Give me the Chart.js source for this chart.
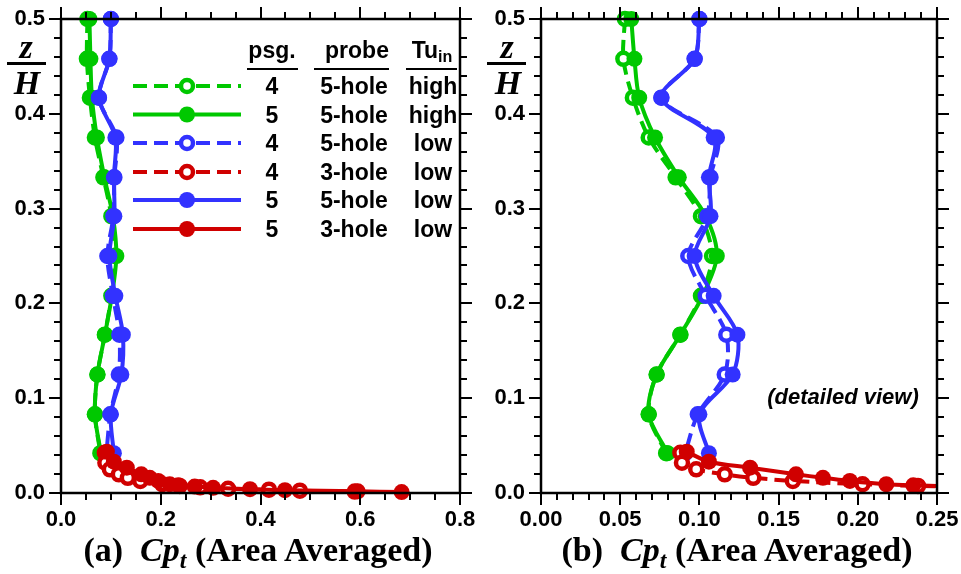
<!DOCTYPE html>
<html>
<head>
<meta charset="utf-8">
<script src="https://cdn.jsdelivr.net/npm/chart.js@4.4.1/dist/chart.umd.min.js"></script>
<style>
html, body { margin: 0; padding: 0; background: #fff; }
#wrap { position: relative; width: 961px; height: 574px; overflow: hidden; }
.panel { position: absolute; top: 0; height: 574px; }
.t { position: absolute; transform: translate(-50%, -50%); white-space: nowrap; line-height: 1; color: #000; }
.sans { font-family: "Liberation Sans", Arial, sans-serif; font-weight: bold; }
.serif { font-family: "Liberation Serif", "Times New Roman", serif; font-weight: bold; }
.xt { font-size: 34px; }
.xt sub { font-size: 0.7em; vertical-align: -0.3em; line-height: 0; }
.frac { font-size: 34px; font-style: italic; }
.bar { position: absolute; height: 2.5px; background: #000; }
.lg { font-size: 23px; }
.ul { position: absolute; height: 1.5px; background: #000; }
.lg sub { font-size: 0.7em; vertical-align: -0.25em; line-height: 0; }
</style>
</head>
<body>
<div id="wrap">
  <div class="panel" style="left:0;width:480px"><canvas id="chartA" width="480" height="574"></canvas></div>
  <div class="panel" style="left:480px;width:481px"><canvas id="chartB" width="481" height="574"></canvas></div>

  <!-- y axis labels z/H -->
  <div class="t serif frac" style="left:26px;top:47px">z</div>
  <div class="bar" style="left:7px;top:62px;width:39px"></div>
  <div class="t serif frac" style="left:27px;top:83px">H</div>
  <div class="t serif frac" style="left:507px;top:47px">z</div>
  <div class="bar" style="left:487px;top:62px;width:39px"></div>
  <div class="t serif frac" style="left:508px;top:83px">H</div>

  <!-- x axis titles -->
  <div class="t serif xt" style="left:258px;top:550px">(a)&nbsp;&nbsp;<i>Cp<sub>t</sub></i> (Area Averaged)</div>
  <div class="t serif xt" style="left:737px;top:550px">(b)&nbsp;&nbsp;<i>Cp<sub>t</sub></i> (Area Averaged)</div>

  <!-- legend table -->
  <div class="t sans lg" style="left:272px;top:50px">psg.</div>
  <div class="t sans lg" style="left:357px;top:50px">probe</div>
  <div class="t sans lg" style="left:432px;top:50px">Tu<sub>in</sub></div>
  <div class="ul" style="left:247px;top:68px;width:51px"></div>
  <div class="ul" style="left:314px;top:68px;width:75px"></div>
  <div class="ul" style="left:406px;top:68px;width:51px"></div>
  <div id="legendRows"></div>

  <div class="t sans" style="left:843px;top:397px;font-size:22px;font-style:italic">(detailed view)</div>
</div>

<script>
// z/H levels shared by the 5-hole traverses
const zLevels = [0.5, 0.458, 0.417, 0.375, 0.333, 0.292, 0.25, 0.208, 0.167, 0.125, 0.083, 0.042];

// psg. 4 / 5-hole / high Tu
const cpP4FiveHoleHigh = [0.053, 0.052, 0.058, 0.068, 0.085, 0.101, 0.108, 0.101, 0.088, 0.073, 0.068, 0.079];
// psg. 5 / 5-hole / high Tu
const cpP5FiveHoleHigh = [0.057, 0.059, 0.062, 0.072, 0.087, 0.104, 0.111, 0.102, 0.088, 0.073, 0.068, 0.080];
// psg. 4 / 5-hole / low Tu
const cpP4FiveHoleLow = [0.100, 0.097, 0.076, 0.111, 0.107, 0.105, 0.093, 0.104, 0.117, 0.116, 0.099, 0.091];
// psg. 5 / 5-hole / low Tu
const cpP5FiveHoleLow = [0.100, 0.097, 0.076, 0.109, 0.106, 0.107, 0.097, 0.109, 0.124, 0.121, 0.100, 0.106];

// psg. 4 / 3-hole / low Tu (near-wall)
const zP4ThreeHole = [0.0425, 0.032, 0.025, 0.0197, 0.016, 0.0127, 0.0092, 0.0075, 0.006, 0.0045, 0.0035, 0.0025, 0.0015];
const cpP4ThreeHole = [0.088, 0.089, 0.098, 0.116, 0.134, 0.159, 0.203, 0.238, 0.279, 0.335, 0.417, 0.479, 0.589];
// psg. 5 / 3-hole / low Tu (near-wall)
const zP5ThreeHole = [0.0435, 0.033, 0.0267, 0.0197, 0.016, 0.0127, 0.0092, 0.0081, 0.0068, 0.0055, 0.004, 0.003, 0.0018, 0.001];
const cpP5ThreeHole = [0.092, 0.106, 0.132, 0.161, 0.178, 0.195, 0.218, 0.235, 0.268, 0.305, 0.379, 0.449, 0.595, 0.683];

// legend rows: psg., probe, Tu_in
const legendPsg = ['4', '5', '4', '4', '5', '5'];
const legendProbe = ['5-hole', '5-hole', '5-hole', '3-hole', '5-hole', '3-hole'];
const legendTu = ['high', 'high', 'low', 'low', 'low', 'low'];

const GREEN = '#00c800';
const BLUE = '#3232ff';
const RED = '#d00000';

const legendStyles = [
  {color: GREEN, dashed: true, open: true},
  {color: GREEN, dashed: false, open: false},
  {color: BLUE, dashed: true, open: true},
  {color: RED, dashed: true, open: true},
  {color: BLUE, dashed: false, open: false},
  {color: RED, dashed: false, open: false}
];
const legendY = [86, 114.5, 143, 172, 200, 229];

// legend text
var rowsHtml = '';
for (var i = 0; i < legendPsg.length; i++) {
  rowsHtml += '<div class="t sans lg" style="left:272px;top:' + legendY[i] + 'px">' + legendPsg[i] + '</div>';
  rowsHtml += '<div class="t sans lg" style="left:354px;top:' + legendY[i] + 'px">' + legendProbe[i] + '</div>';
  rowsHtml += '<div class="t sans lg" style="left:433px;top:' + legendY[i] + 'px">' + legendTu[i] + '</div>';
}
document.getElementById('legendRows').innerHTML = rowsHtml;

function series(label, xs, ys, color, dashed, open, clip) {
  var pts = [];
  for (var i = 0; i < xs.length; i++) pts.push({x: xs[i], y: ys[i]});
  return {
    label: label,
    data: pts,
    showLine: true,
    borderColor: color,
    borderWidth: 4,
    borderDash: dashed ? [14, 7] : [],
    tension: 0.3,
    pointRadius: open ? 6 : 8,
    pointBorderWidth: open ? 4.5 : 0,
    pointBorderColor: color,
    pointBackgroundColor: open ? '#fff' : color,
    clip: clip
  };
}

function buildDatasets(redClip) {
  // first entry is drawn on top
  return [
    series('psg.5 3-hole low', cpP5ThreeHole, zP5ThreeHole, RED, false, false, redClip),
    series('psg.4 3-hole low', cpP4ThreeHole, zP4ThreeHole, RED, true, true, redClip),
    series('psg.5 5-hole low', cpP5FiveHoleLow, zLevels, BLUE, false, false, 15),
    series('psg.4 5-hole low', cpP4FiveHoleLow, zLevels, BLUE, true, true, 15),
    series('psg.5 5-hole high', cpP5FiveHoleHigh, zLevels, GREEN, false, false, 15),
    series('psg.4 5-hole high', cpP4FiveHoleHigh, zLevels, GREEN, true, true, 15)
  ];
}

// frame and major/minor tick marks on all four sides
const frameTicks = {
  id: 'frameTicks',
  afterDatasetsDraw(chart, args, opts) {
    const ctx = chart.ctx, a = chart.chartArea;
    const xs = chart.scales.x, ys = chart.scales.y;
    ctx.save();
    ctx.strokeStyle = '#000';
    ctx.lineWidth = 2;
    ctx.beginPath();
    var n = Math.round((xs.max - xs.min) / opts.xMinor);
    for (var i = 0; i <= n; i++) {
      var v = xs.min + i * opts.xMinor;
      var px = Math.round(xs.getPixelForValue(v));
      var r = v / opts.xMajor;
      var len = Math.abs(r - Math.round(r)) < 1e-6 ? 12 : 7;
      ctx.moveTo(px, a.bottom); ctx.lineTo(px, a.bottom + len);
      ctx.moveTo(px, a.top); ctx.lineTo(px, a.top - len);
    }
    n = Math.round((ys.max - ys.min) / opts.yMinor);
    for (var j = 0; j <= n; j++) {
      var w = ys.min + j * opts.yMinor;
      var py = Math.round(ys.getPixelForValue(w));
      var q = w / opts.yMajor;
      var l2 = Math.abs(q - Math.round(q)) < 1e-6 ? 12 : 7;
      ctx.moveTo(a.left, py); ctx.lineTo(a.left - l2, py);
      ctx.moveTo(a.right, py); ctx.lineTo(a.right + l2, py);
    }
    ctx.stroke();
    ctx.lineWidth = 2.5;
    ctx.strokeRect(a.left, a.top, a.right - a.left, a.bottom - a.top);
    ctx.restore();
  }
};

// line/marker samples for the legend table
const legendSamples = {
  id: 'legendSamples',
  afterDraw(chart) {
    const ctx = chart.ctx;
    ctx.save();
    for (var i = 0; i < legendStyles.length; i++) {
      var s = legendStyles[i], y = legendY[i];
      ctx.strokeStyle = s.color;
      ctx.lineWidth = 4;
      ctx.setLineDash(s.dashed ? [14, 7] : []);
      ctx.beginPath(); ctx.moveTo(133, y); ctx.lineTo(241, y); ctx.stroke();
      ctx.setLineDash([]);
      ctx.beginPath();
      if (s.open) {
        ctx.arc(187, y, 6, 0, Math.PI * 2);
        ctx.fillStyle = '#fff'; ctx.fill();
        ctx.lineWidth = 4.5; ctx.stroke();
      } else {
        ctx.arc(187, y, 8, 0, Math.PI * 2);
        ctx.fillStyle = s.color; ctx.fill();
      }
    }
    ctx.restore();
  }
};

const tickFont = {family: '"Liberation Sans", Arial, sans-serif', size: 22, weight: 'bold'};

function noPad(s) {
  s.paddingTop = 0; s.paddingBottom = 0; s.paddingLeft = 0; s.paddingRight = 0;
}

function makeChart(id, xMax, xStep, xMinor, dec, rightPad, redClip, extraPlugins) {
  return new Chart(document.getElementById(id), {
    type: 'scatter',
    data: {datasets: buildDatasets(redClip)},
    options: {
      responsive: false,
      animation: false,
      devicePixelRatio: 1,
      layout: {padding: {top: 19, right: rightPad, left: 0, bottom: 0}},
      plugins: {
        legend: {display: false},
        tooltip: {enabled: false},
        frameTicks: {xMajor: xStep, xMinor: xMinor, yMajor: 0.1, yMinor: 0.02}
      },
      scales: {
        x: {
          type: 'linear', min: 0, max: xMax,
          afterFit: function(s) { s.height = 81; noPad(s); },
          grid: {display: false, drawTicks: false},
          border: {display: false},
          ticks: {stepSize: xStep, color: '#000', font: tickFont, padding: 14, maxRotation: 0, autoSkip: false,
                  callback: function(v) { return v.toFixed(dec); }}
        },
        y: {
          type: 'linear', min: 0, max: 0.5,
          afterFit: function(s) { s.width = 61; noPad(s); },
          grid: {display: false, drawTicks: false},
          border: {display: false},
          ticks: {stepSize: 0.1, color: '#000', font: tickFont, padding: 16, autoSkip: false,
                  callback: function(v) { return v.toFixed(1); }}
        }
      }
    },
    plugins: [frameTicks].concat(extraPlugins)
  });
}

makeChart('chartA', 0.8, 0.2, 0.05, 1, 20, 15, [legendSamples]);
makeChart('chartB', 0.25, 0.05, 0.01, 2, 24, {left: 15, top: 15, right: 0, bottom: 15}, []);
</script>
</body>
</html>
